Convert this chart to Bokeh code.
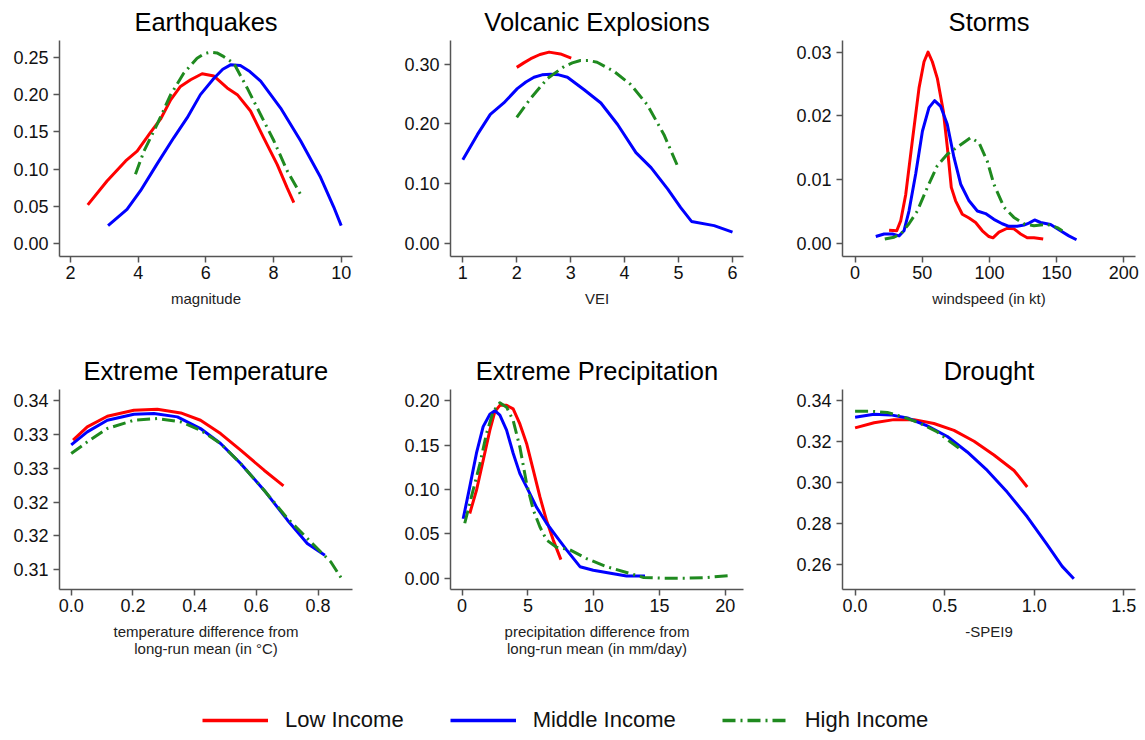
import math
from bokeh.plotting import figure
from bokeh.models import Range1d, FixedTicker, NumeralTickFormatter, Legend, LegendItem
from bokeh.layouts import column, row
from bokeh.embed import file_html
from bokeh.resources import INLINE

# ---------------- data ----------------
series_names = ["Low Income", "Middle Income", "High Income"]

eq_low_x = [2.51, 3.08, 3.63, 3.97, 4.36, 4.66, 4.96, 5.25, 5.55, 5.89, 6.24, 6.63, 6.93, 7.32, 7.71, 8.11, 8.40, 8.60]
eq_low_y = [0.052, 0.084, 0.111, 0.124, 0.149, 0.167, 0.193, 0.211, 0.220, 0.228, 0.225, 0.209, 0.200, 0.178, 0.142, 0.106, 0.075, 0.055]
eq_mid_x = [3.11, 3.67, 4.07, 4.56, 5.05, 5.45, 5.84, 6.24, 6.50, 6.73, 7.02, 7.30, 7.62, 8.21, 8.80, 9.39, 9.78, 10.0]
eq_mid_y = [0.024, 0.046, 0.071, 0.107, 0.142, 0.169, 0.200, 0.222, 0.234, 0.240, 0.239, 0.231, 0.218, 0.182, 0.138, 0.089, 0.049, 0.024]
eq_high_x = [3.92, 4.17, 4.56, 4.96, 5.35, 5.74, 5.95, 6.13, 6.33, 6.53, 6.83, 7.22, 7.62, 8.01, 8.40, 8.80]
eq_high_y = [0.093, 0.124, 0.160, 0.200, 0.229, 0.249, 0.255, 0.257, 0.256, 0.251, 0.242, 0.209, 0.173, 0.138, 0.098, 0.066]

vo_low_x = [2.0, 2.13, 2.26, 2.43, 2.60, 2.81, 3.01]
vo_low_y = [0.2945, 0.302, 0.309, 0.316, 0.320, 0.317, 0.310]
vo_mid_x = [1.0, 1.27, 1.51, 1.76, 2.01, 2.17, 2.32, 2.47, 2.63, 2.78, 2.94, 3.25, 3.56, 3.87, 4.21, 4.49, 4.80, 5.04, 5.24, 5.66, 6.0]
vo_mid_y = [0.140, 0.182, 0.216, 0.235, 0.259, 0.270, 0.278, 0.282, 0.283, 0.282, 0.278, 0.257, 0.235, 0.199, 0.152, 0.127, 0.091, 0.060, 0.037, 0.030, 0.019]
vo_high_x = [2.0, 2.26, 2.57, 2.88, 3.03, 3.18, 3.33, 3.49, 3.80, 4.11, 4.42, 4.73, 4.98]
vo_high_y = [0.211, 0.243, 0.276, 0.296, 0.302, 0.306, 0.306, 0.303, 0.288, 0.266, 0.232, 0.182, 0.130]

st_low_x = [25.3, 31.0, 34.0, 37.7, 42.6, 47.6, 51.3, 54.3, 57.5, 61.2, 65.7, 68.7, 71.6, 74.8, 79.8, 84.8, 89.7, 94.7, 99.6, 102.6, 107.1, 113.3, 118.2, 123.2, 128.1, 133.1, 140.0]
st_low_y = [0.0021, 0.0020, 0.0036, 0.0077, 0.0161, 0.0244, 0.0285, 0.0300, 0.0285, 0.0259, 0.0207, 0.0150, 0.0088, 0.0067, 0.0046, 0.0040, 0.0033, 0.0020, 0.0011, 0.0009, 0.0018, 0.0024, 0.0023, 0.0015, 0.0009, 0.0009, 0.0007]
st_mid_x = [15.4, 21.6, 27.8, 32.7, 36.4, 40.1, 45.1, 50.1, 55.0, 59.2, 63.7, 68.6, 73.6, 78.6, 84.8, 91.0, 97.1, 103.3, 109.5, 114.5, 120.7, 125.7, 129.4, 133.6, 138.0, 145.5, 152.9, 159.1, 164.8]
st_mid_y = [0.0011, 0.0015, 0.0015, 0.0012, 0.0020, 0.0051, 0.0109, 0.0176, 0.0213, 0.0224, 0.0215, 0.0187, 0.0135, 0.0093, 0.0067, 0.0051, 0.0047, 0.0038, 0.0031, 0.0027, 0.0027, 0.0029, 0.0032, 0.0037, 0.0033, 0.0030, 0.0020, 0.0012, 0.0006]
st_high_x = [22.1, 29.0, 34.0, 40.1, 46.3, 53.8, 61.2, 68.6, 78.6, 86.0, 92.2, 98.4, 103.3, 110.8, 118.2, 125.7, 133.1, 143.0, 150.4, 154.2]
st_high_y = [0.0007, 0.0010, 0.0015, 0.0031, 0.0051, 0.0088, 0.0122, 0.0140, 0.0155, 0.0166, 0.0158, 0.0129, 0.0093, 0.0057, 0.0041, 0.0031, 0.0028, 0.0030, 0.0025, 0.0020]

te_low_x = [0.006, 0.052, 0.117, 0.203, 0.279, 0.355, 0.419, 0.484, 0.549, 0.625, 0.688]
te_low_y = [0.33417, 0.33615, 0.33773, 0.33862, 0.33876, 0.33822, 0.33713, 0.33516, 0.33269, 0.32972, 0.32740]
te_mid_x = [0.0, 0.052, 0.117, 0.203, 0.268, 0.344, 0.419, 0.484, 0.549, 0.625, 0.701, 0.765, 0.822]
te_mid_y = [0.33348, 0.33541, 0.33713, 0.33802, 0.33812, 0.33763, 0.33590, 0.33368, 0.33071, 0.32676, 0.32231, 0.31885, 0.31712]
te_high_x = [0.0, 0.052, 0.117, 0.203, 0.279, 0.355, 0.419, 0.484, 0.549, 0.625, 0.701, 0.776, 0.841, 0.874]
te_high_y = [0.33219, 0.33392, 0.33590, 0.33713, 0.33738, 0.33689, 0.33565, 0.33368, 0.33071, 0.32676, 0.32256, 0.31910, 0.31614, 0.31381]
te_yticks = [0.315, 0.32, 0.325, 0.33, 0.335, 0.34]
te_ylabels = ["0.31", "0.32", "0.32", "0.33", "0.33", "0.34"]

pr_low_x = [0.58, 1.09, 1.60, 2.11, 2.49, 2.87, 3.38, 3.88, 4.39, 4.90, 5.41, 5.91, 6.42, 6.93, 7.51]
pr_low_y = [0.073, 0.099, 0.133, 0.167, 0.188, 0.195, 0.195, 0.191, 0.174, 0.152, 0.122, 0.092, 0.065, 0.043, 0.021]
pr_mid_x = [0.08, 0.58, 1.09, 1.60, 2.11, 2.49, 2.87, 3.38, 3.88, 4.39, 4.90, 5.66, 6.42, 7.18, 7.94, 8.96, 9.97, 11.5, 12.5, 13.9]
pr_mid_y = [0.067, 0.103, 0.141, 0.171, 0.185, 0.189, 0.184, 0.167, 0.141, 0.118, 0.103, 0.080, 0.062, 0.047, 0.032, 0.013, 0.009, 0.005, 0.0026, 0.0026]
pr_high_x = [0.20, 0.71, 1.35, 1.85, 2.36, 2.87, 3.38, 3.88, 4.39, 4.90, 5.41, 5.91, 6.42, 7.18, 8.20, 9.47, 10.99, 12.5, 13.8, 15.3, 17.1, 18.6, 20.4]
pr_high_y = [0.062, 0.092, 0.129, 0.163, 0.188, 0.198, 0.193, 0.178, 0.148, 0.107, 0.077, 0.058, 0.043, 0.035, 0.032, 0.022, 0.013, 0.0064, 0.0008, 0.0, 0.0, 0.0008, 0.003]

dr_low_x = [0.0, 0.106, 0.217, 0.329, 0.440, 0.552, 0.664, 0.775, 0.887, 0.961]
dr_low_y = [0.3265, 0.3290, 0.3305, 0.3305, 0.3286, 0.3253, 0.3200, 0.3133, 0.3058, 0.2978]
dr_mid_x = [0.0, 0.106, 0.199, 0.292, 0.403, 0.515, 0.626, 0.738, 0.849, 0.961, 1.072, 1.156, 1.221]
dr_mid_y = [0.3317, 0.3331, 0.3328, 0.3313, 0.3275, 0.3223, 0.3148, 0.3058, 0.2953, 0.2833, 0.2698, 0.2592, 0.2532]
dr_high_x = [0.0, 0.087, 0.180, 0.273, 0.366, 0.459, 0.533, 0.598]
dr_high_y = [0.3346, 0.3346, 0.3340, 0.3317, 0.3286, 0.3245, 0.3196, 0.3155]

# ---------------- styling ----------------
FONT = "Liberation Sans"
COLORS = ["#ff0000", "#0000ff", "#1f8a1f"]
DASHES = ["solid", "solid", "13 5 2 5"]
AXIS_COLOR = "#555555"


def make_panel(title, xlabel, series, xr, yr, xticks, yticks, xfmt, yfmt,
               width, height, bl, br, bt, bb, ylabel_overrides=None):
    p = figure(width=width, height=height, title=title,
               x_range=Range1d(*xr), y_range=Range1d(*yr),
               output_backend="svg", toolbar_location=None,
               min_border_left=bl, min_border_right=br,
               min_border_top=bt, min_border_bottom=bb)
    p.title.text_font = FONT
    p.title.text_font_size = "25.5px"
    p.title.text_font_style = "normal"
    p.title.text_color = "#000000"
    p.title.align = "center"
    p.title.standoff = 10
    p.outline_line_color = None
    p.xgrid.visible = False
    p.ygrid.visible = False
    p.background_fill_color = "white"
    p.border_fill_color = "white"

    for ax in (p.xaxis[0], p.yaxis[0]):
        ax.axis_line_color = AXIS_COLOR
        ax.axis_line_width = 1.5
        ax.major_tick_line_color = AXIS_COLOR
        ax.major_tick_line_width = 1.5
        ax.major_tick_out = 6
        ax.major_tick_in = 0
        ax.minor_tick_line_color = None
        ax.major_label_text_font = FONT
        ax.major_label_text_font_size = "18px"
        ax.major_label_text_color = "#111111"

    p.xaxis.ticker = FixedTicker(ticks=xticks)
    p.yaxis.ticker = FixedTicker(ticks=yticks)
    p.xaxis.formatter = NumeralTickFormatter(format=xfmt)
    p.yaxis.formatter = NumeralTickFormatter(format=yfmt)
    if ylabel_overrides is not None:
        p.yaxis.major_label_overrides = ylabel_overrides
    p.xaxis.major_label_standoff = 3
    p.yaxis.major_label_standoff = 5

    p.xaxis.axis_label = xlabel
    p.xaxis.axis_label_text_font = FONT
    p.xaxis.axis_label_text_font_size = "15px"
    p.xaxis.axis_label_text_font_style = "normal"
    p.xaxis.axis_label_text_color = "#222222"
    p.xaxis.axis_label_standoff = 8
    p.xaxis.axis_label_text_line_height = 1.05

    for (xs, ys), c, d in zip(series, COLORS, DASHES):
        p.line(xs, ys, line_color=c, line_width=3, line_dash=d,
               line_join="round")
    return p


W1, W2, W3 = 400, 390, 349
H1, H2 = 340, 340

p1 = make_panel("Earthquakes", "magnitude",
                [(eq_low_x, eq_low_y), (eq_mid_x, eq_mid_y), (eq_high_x, eq_high_y)],
                (1.675, 10.334), (-0.0174, 0.2727),
                [2, 4, 6, 8, 10], [0, 0.05, 0.10, 0.15, 0.20, 0.25], "0", "0.00",
                W1, H1, 59, 48, 39, 84)
p2 = make_panel("Volcanic Explosions", "VEI",
                [(vo_low_x, vo_low_y), (vo_mid_x, vo_mid_y), (vo_high_x, vo_high_y)],
                (0.772, 6.204), (-0.0216, 0.3394),
                [1, 2, 3, 4, 5, 6], [0, 0.10, 0.20, 0.30], "0", "0.00",
                W2, H1, 50, 47, 39, 84)
p3 = make_panel("Storms", "windspeed (in kt)",
                [(st_low_x, st_low_y), (st_mid_x, st_mid_y), (st_high_x, st_high_y)],
                (-9.37, 208.7), (-0.00203, 0.03183),
                [0, 50, 100, 150, 200], [0, 0.01, 0.02, 0.03], "0", "0.00",
                W3, H1, 52, 4, 39, 84)

p4 = make_panel("Extreme Temperature", "temperature difference from\nlong-run mean (in °C)",
                [(te_low_x, te_low_y), (te_mid_x, te_mid_y), (te_high_x, te_high_y)],
                (-0.038, 0.9116), (0.31203, 0.34169),
                [0, 0.2, 0.4, 0.6, 0.8], te_yticks, "0.0", "0.00",
                W1, H2, 59, 48, 49, 91,
                ylabel_overrides=dict(zip(te_yticks, te_ylabels)))
p5 = make_panel("Extreme Precipitation", "precipitation difference from\nlong-run mean (in mm/day)",
                [(pr_low_x, pr_low_y), (pr_mid_x, pr_mid_y), (pr_high_x, pr_high_y)],
                (-0.883, 21.39), (-0.01275, 0.2129),
                [0, 5, 10, 15, 20], [0, 0.05, 0.10, 0.15, 0.20], "0", "0.00",
                W2, H2, 50, 47, 49, 91)
p6 = make_panel("Drought", "-SPEI9",
                [(dr_low_x, dr_low_y), (dr_mid_x, dr_mid_y), (dr_high_x, dr_high_y)],
                (-0.0703, 1.5653), (0.24797, 0.34514),
                [0, 0.5, 1.0, 1.5], [0.26, 0.28, 0.30, 0.32, 0.34], "0.0", "0.00",
                W3, H2, 52, 4, 49, 75)

# ---------------- legend strip ----------------
pl = figure(width=W1 + W2 + W3, height=58, x_range=Range1d(0, 1), y_range=Range1d(0, 1),
            x_axis_type=None, y_axis_type=None, output_backend="svg",
            toolbar_location=None, min_border=0)
pl.outline_line_color = None
pl.xgrid.visible = False
pl.ygrid.visible = False
items = []
for name, c, d in zip(series_names, COLORS, DASHES):
    r = pl.line(x=[0.5], y=[math.nan], line_color=c, line_width=3.5, line_dash=d)
    items.append(LegendItem(label=name, renderers=[r]))
leg = Legend(items=items, orientation="horizontal", location=(202, 5),
             glyph_width=66, glyph_height=20, label_height=20,
             label_standoff=17, spacing=46, padding=0, margin=0,
             label_text_font=FONT, label_text_font_size="22px",
             label_text_color="#111111",
             border_line_color=None, background_fill_alpha=0)
pl.add_layout(leg, "center")

layout = column(row(p1, p2, p3), row(p4, p5, p6), pl)

with open("out.html", "w") as f:
    f.write(file_html(layout, INLINE))
